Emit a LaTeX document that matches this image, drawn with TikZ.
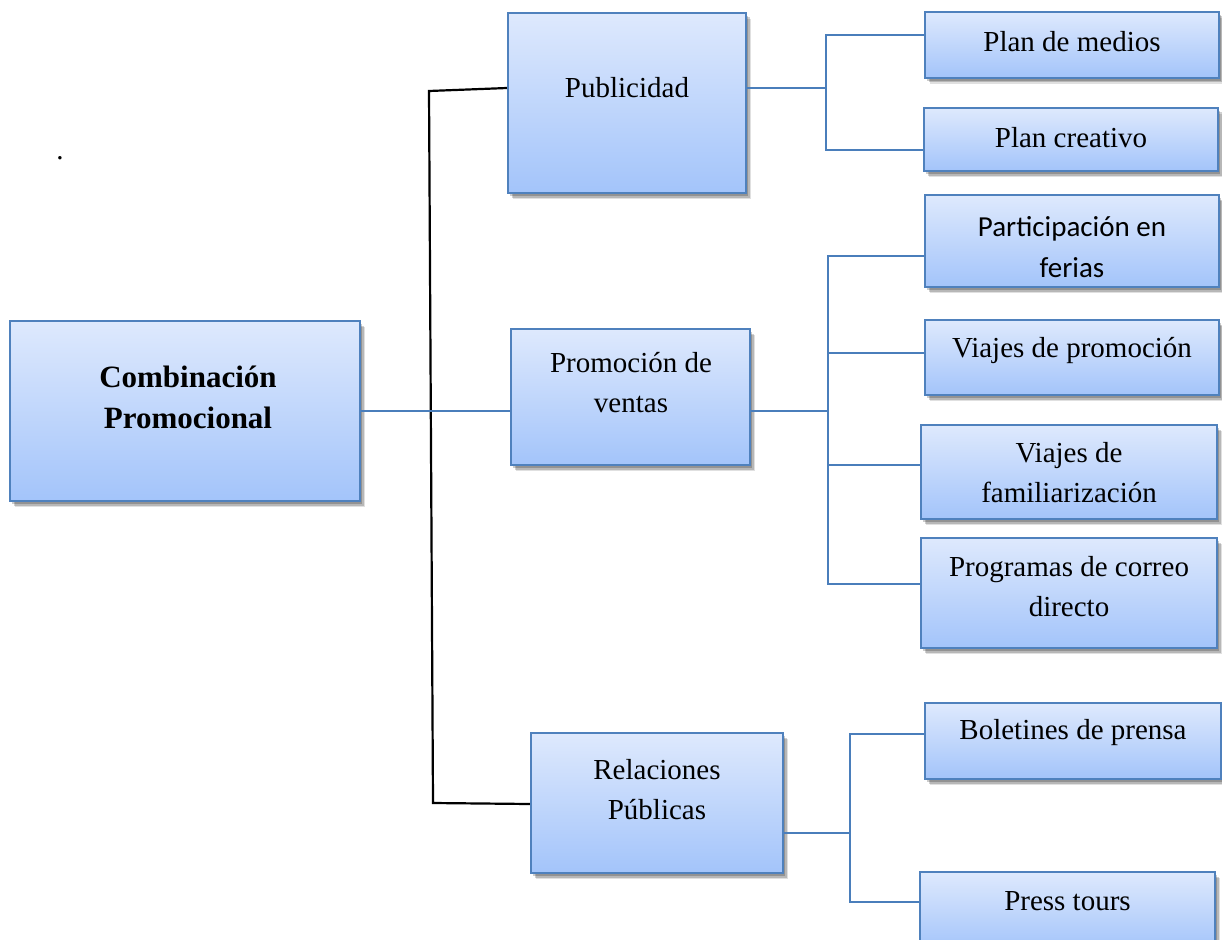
\documentclass[tikz,border=0pt]{standalone}
\usepackage{fontspec}
\setmainfont{Liberation Serif}
\newfontfamily\calibrifont{Carlito}
\usetikzlibrary{shadows}
\definecolor{bordc}{HTML}{4F81BD}
\definecolor{topc}{HTML}{DEE9FD}
\definecolor{botc}{HTML}{A3C4FA}
\definecolor{linec}{HTML}{4A7EBB}
\begin{document}
\begin{tikzpicture}[x=1pt,y=-1pt,
  box/.style={draw=bordc, line width=2.2pt, top color=topc, bottom color=botc,
    rectangle, inner sep=0pt,
    drop shadow={shadow xshift=5pt, shadow yshift=-6pt, opacity=0.12, fill=black},
    drop shadow={shadow xshift=3.5pt, shadow yshift=-4.5pt, opacity=0.18, fill=black},
    drop shadow={shadow xshift=2pt, shadow yshift=-3pt, opacity=0.2, fill=black}},
  txt/.style={font=\fontsize{29}{40}\selectfont, align=center, inner sep=0pt},
  btxt/.style={txt, font=\fontsize{31}{41}\selectfont\bfseries},
  bl/.style={draw=linec, line width=2.2pt},
  bk/.style={draw=black, line width=2.2pt}]
\clip (0,0) rectangle (1222,939);
\fill[white] (0,0) rectangle (1222,939);

% boxes
\node[box, minimum width=350pt, minimum height=180pt] (main) at (185,411) {};
\node[box, minimum width=238pt, minimum height=180pt] (pub) at (627,103) {};
\node[box, minimum width=239pt, minimum height=136pt] (prom) at (630.5,397) {};
\node[box, minimum width=252pt, minimum height=140pt] (rp) at (657,803) {};
\node[box, minimum width=294pt, minimum height=66pt] (pm) at (1072,45) {};
\node[box, minimum width=294pt, minimum height=63pt] (pc) at (1071,139.5) {};
\node[box, minimum width=294pt, minimum height=92pt] (pf) at (1072,241) {};
\node[box, minimum width=294pt, minimum height=75pt] (vp) at (1072,357.5) {};
\node[box, minimum width=296pt, minimum height=94pt] (vf) at (1069,472) {};
\node[box, minimum width=296pt, minimum height=110pt] (pcd) at (1069,593) {};
\node[box, minimum width=296pt, minimum height=76pt] (bp) at (1073,741) {};
\node[box, minimum width=295pt, minimum height=78pt] (pt) at (1067.5,911) {};

% texts
\node[btxt] (tmain) at (188,397) {Combinación\\Promocional};
\node[txt] (tpub) at (627,88) {Publicidad};
\node[txt] (tprom) at (631,383) {Promoción de\\ventas};
\node[txt] (trp) at (657,790) {Relaciones\\Públicas};
\node[txt] (tpm) at (1072,42) {Plan de medios};
\node[txt] (tpc) at (1071,138) {Plan creativo};
\node[txt, font=\fontsize{29}{41}\selectfont\calibrifont] (tpf) at (1072,247) {Participación en\\ferias};
\node[txt] (tvp) at (1072,351) {Viajes de promoción};
\node[txt] (tvf) at (1069,473) {Viajes de\\familiarización};
\node[txt] (tpcd) at (1069,587) {Programas de correo\\directo};
\node[txt] (tbp) at (1073,733) {Boletines de prensa};
\node[txt] (tpt) at (1067.5,901) {Press tours};
\node[txt] (dot) at (60,158) {.};

% black bracket
\coordinate (k1) at (429,91);
\coordinate (k2) at (433,803);
\draw[bk] ([yshift=15pt]pub.west) -- (k1) -- (k2) -- ([yshift=-1pt]rp.west);
% main link
\draw[bl] (main.east) -- (main.east -| prom.west);

% publicidad branch
\coordinate (j1) at (826,88);
\draw[bl] ([yshift=15pt]pub.east) -- (j1);
\draw[bl] ([yshift=10pt]pm.west) -| (j1) |- ([yshift=-10.5pt]pc.west);

% promocion branch
\coordinate (j2) at (828,411);
\draw[bl] ([yshift=-14pt]prom.east) -- (j2);
\draw[bl] ([yshift=-15pt]pf.west) -| (j2) |- ([yshift=9pt]pcd.west);
\path ([yshift=4.5pt]vp.west) coordinate (vpw);
\path ([yshift=7pt]vf.west) coordinate (vfw);
\draw[bl] (vpw) -- (vpw -| j2);
\draw[bl] (vfw) -- (vfw -| j2);

% relaciones branch
\coordinate (j3) at (850,833);
\draw[bl] ([yshift=-30pt]rp.east) -- (j3);
\draw[bl] ([yshift=7pt]bp.west) -| (j3) |- ([yshift=9pt]pt.west);
\end{tikzpicture}
\end{document}
